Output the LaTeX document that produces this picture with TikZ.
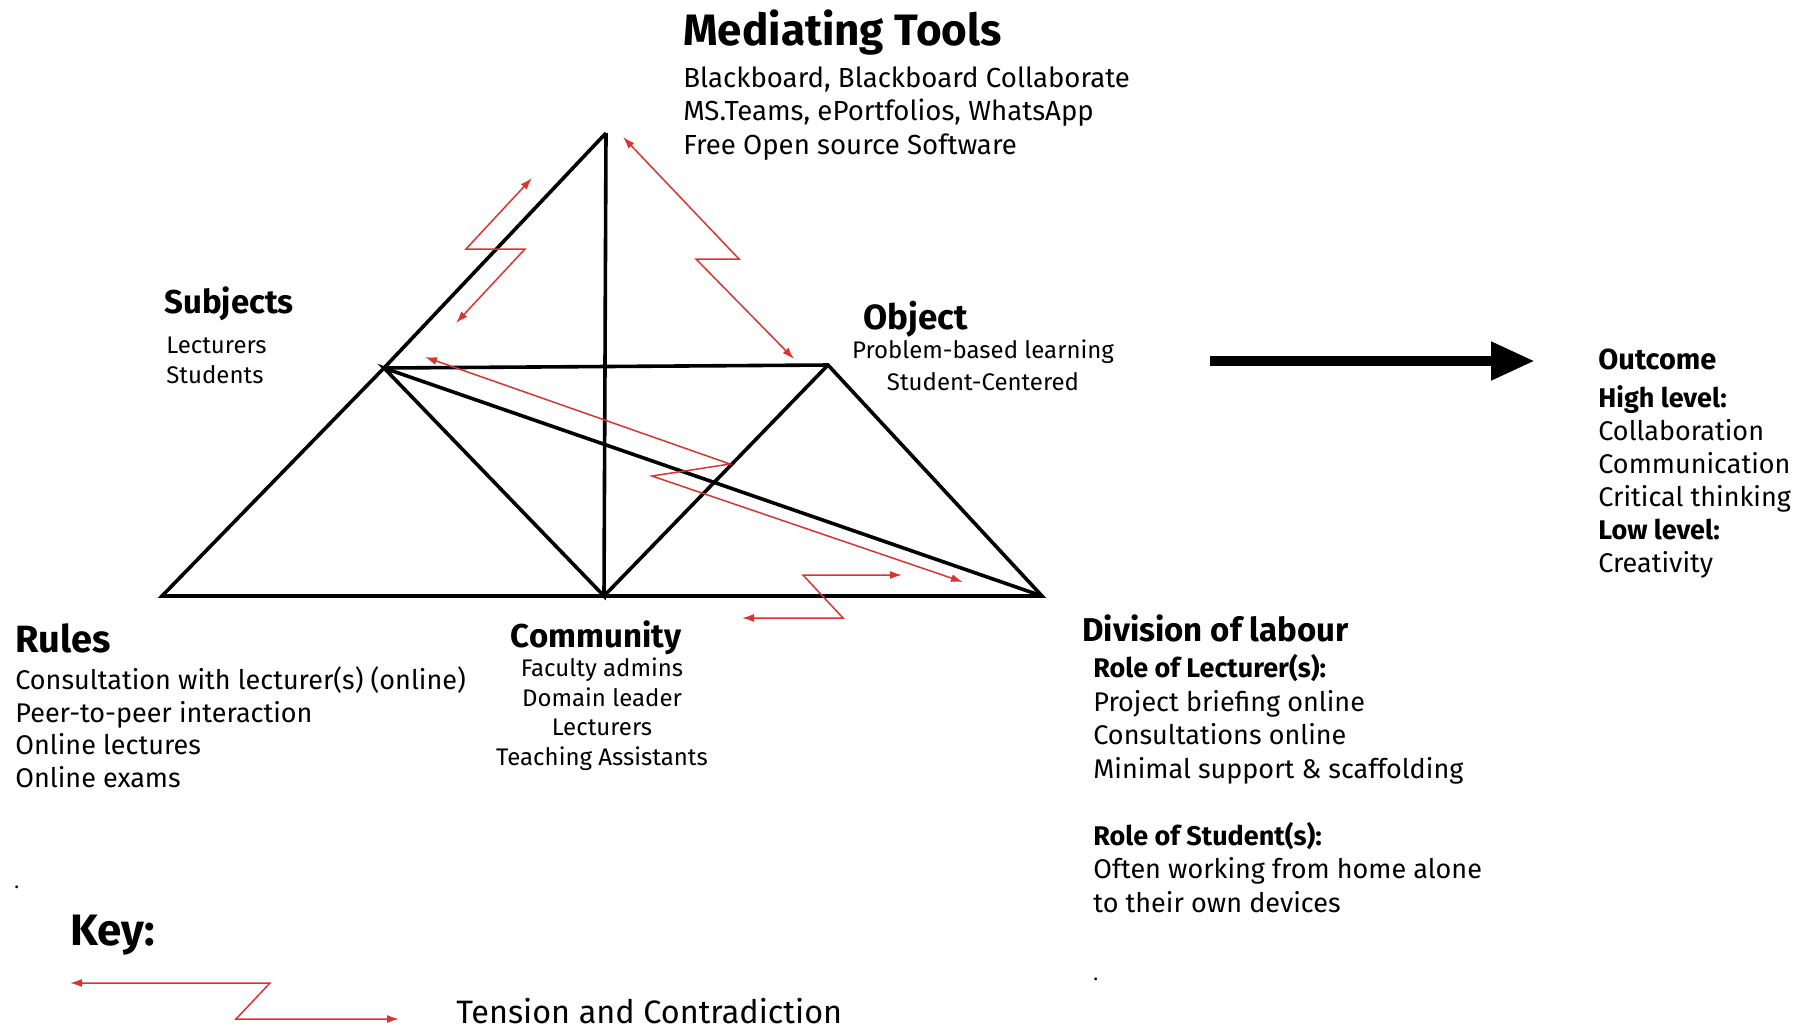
\documentclass[tikz,border=0pt]{standalone}
\usepackage{fontspec}
\setmainfont{Fira Sans}
\usepackage{xcolor}
\definecolor{tensionred}{RGB}{218,52,48}
\usetikzlibrary{arrows.meta}
\tikzset{
    triside/.style={line width=1.8pt},
    zigzag/.style={tensionred, line width=0.75pt,
        {Latex[length=6pt,width=4pt]}-{Latex[length=6pt,width=4pt]}},
    flowarrow/.style={line width=5.3pt, -{Triangle[length=22pt,width=18pt]}},
    heading/.style={anchor=base west, inner sep=0pt, font=\bfseries\fontsize{16.5}{20}\selectfont},
    bighead/.style={heading, font=\bfseries\fontsize{22}{26}\selectfont},
    % lists are placed by the baseline of their last line
    list/.style={anchor=base west, inner sep=0pt, align=left, font=\fontsize{13.5}{16.5}\selectfont},
    smalllist/.style={list, font=\fontsize{12}{14.7}\selectfont},
    strayDot/.style={anchor=base west, inner sep=0pt, font=\fontsize{10}{12}\selectfont}
}

\begin{document}
\begin{tikzpicture}[x=0.5pt, y=-0.5pt]
  \useasboundingbox (0,0) rectangle (1810,1030);

  % corners of the activity triangle
  \coordinate (tools) at (606,133);
  \coordinate (subjects) at (384,368);
  \coordinate (object) at (828,365);
  \coordinate (rules) at (162,596);
  \coordinate (community) at (604,596);
  \coordinate (division) at (1042,596);

  \draw[triside] (tools) -- (subjects) -- (rules) -- (community) -- (division) -- (object) -- (subjects);
  \draw[triside] (tools) -- (community) -- (subjects) -- (division);
  \draw[triside] (object) -- (community);

  % tensions between the corners
  \coordinate (ts-top) at (532,178);
  \coordinate (ts-bottom) at (456,323);
  \draw[zigzag] (ts-top) -- (466,249) -- (525,249) -- (ts-bottom);

  \coordinate (to-top) at (623,137);
  \coordinate (to-bottom) at (794,359);
  \draw[zigzag] (to-top) -- (739,259) -- (696,259) -- (to-bottom);

  \coordinate (sd-start) at (425,357);
  \coordinate (sd-end) at (963,582);
  \draw[zigzag] (sd-start) -- (730,464) -- (652,476) -- (sd-end);

  \coordinate (cd-right) at (902,575);
  \coordinate (cd-left) at (742,618);
  \draw[zigzag] (cd-right) -- (803,575) -- (843,618) -- (cd-left);

  % object leads to outcome
  \coordinate (flow-start) at (1210,361);
  \coordinate (flow-end) at (1535,361);
  \draw[flowarrow] (flow-start) -- (flow-end);

  % labels
  \node[bighead] (tools-head) at (683,45) {Mediating Tools};
  \node[list, font=\fontsize{13.8}{16.6}\selectfont] (tools-list) at (683,154) {Blackboard, Blackboard Collaborate\\MS.Teams, ePortfolios, WhatsApp\\Free Open source Software};

  \node[heading] (subjects-head) at (164,313) {Subjects};
  \node[smalllist, font=\fontsize{12}{15}\selectfont] (subjects-list) at (166,383) {Lecturers\\Students};

  \node[heading, font=\bfseries\fontsize{17.5}{21}\selectfont] (object-head) at (863,329) {Object};
  \node[smalllist, anchor=base, align=center, font=\fontsize{12}{16}\selectfont] (object-list) at (983,390) {Problem-based learning\\Student-Centered};

  \node[heading, font=\bfseries\fontsize{19}{23}\selectfont] (rules-head) at (15,652) {Rules};
  \node[list, font=\fontsize{13.5}{16.25}\selectfont] (rules-list) at (15,787) {Consultation with lecturer(s) (online)\\Peer-to-peer interaction\\Online lectures\\Online exams};

  \node[heading, anchor=base] (community-head) at (596,647) {Community};
  \node[smalllist, anchor=base, align=center] (community-list) at (602,765) {Faculty admins\\Domain leader\\Lecturers\\Teaching Assistants};

  \node[heading] (division-head) at (1082,641) {Division of labour};
  \node[list, font=\fontsize{13.5}{16.75}\selectfont] (division-list) at (1093,912) {\textbf{Role of Lecturer(s):}\\Project briefing online\\Consultations online\\Minimal support \& scaffolding\\[16.75pt]\textbf{Role of Student(s):}\\Often working from home alone\\to their own devices};

  \node[heading, font=\bfseries\fontsize{14.5}{18}\selectfont] (outcome-head) at (1598,369) {Outcome};
  \node[list] (outcome-list) at (1598,572) {\textbf{High level:}\\Collaboration\\Communication\\Critical thinking\\\textbf{Low level:}\\Creativity};

  \node[strayDot] (dot-rules) at (14,888) {.};
  \node[strayDot] (dot-division) at (1093,980) {.};

  % key
  \node[bighead] (key-head) at (70,945) {Key:};
  \coordinate (key-left) at (70,983);
  \coordinate (key-right) at (399,1019);
  \draw[zigzag] (key-left) -- (270,983) -- (236,1019) -- (key-right);
  \node[anchor=base west, inner sep=0pt, font=\fontsize{16.2}{19}\selectfont] (key-text) at (456,1023) {Tension and Contradiction};
\end{tikzpicture}
\end{document}
